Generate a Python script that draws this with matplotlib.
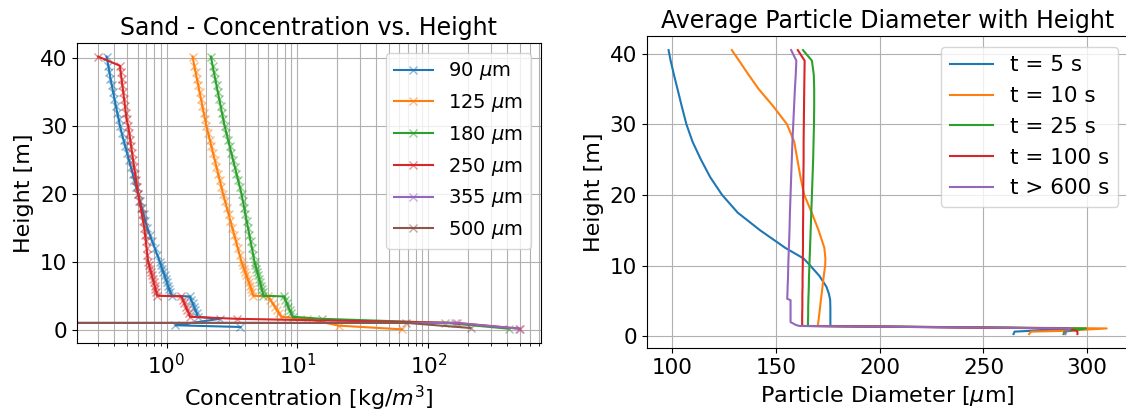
import matplotlib.pyplot as plt
from matplotlib.colors import to_rgba

# grain size classes (um) and their colours
sizes = [90, 125, 180, 250, 355, 500]
colours = ['tab:blue', 'tab:orange', 'tab:green', 'tab:red', 'tab:purple', 'tab:brown']

# cell heights of the column profile (m), top to bottom
height = [40.25, 38.9, 38, 37, 36, 35, 34, 33, 32, 31, 30, 29, 28, 27, 26, 25,
          24, 23, 22, 21, 20, 19, 18, 17, 16, 15, 14, 13, 12, 11, 10,
          9.5, 9, 8.5, 8, 7.5, 7, 6.5, 6, 5.5, 5,
          4.9, 4.4, 3.9, 3.4, 2.9, 2.4, 1.9]

# concentration (kg/m3) at each height
conc_90 = [0.348, 0.359, 0.366, 0.373, 0.382, 0.391, 0.400, 0.410, 0.420, 0.431, 0.441,
           0.454, 0.469, 0.484, 0.500, 0.516, 0.533, 0.551, 0.569, 0.587, 0.607,
           0.627, 0.647, 0.667, 0.689, 0.711, 0.745, 0.778, 0.813, 0.851, 0.889,
           0.905, 0.925, 0.945, 0.965, 0.985, 1.005, 1.025, 1.045, 1.07, 1.10,
           1.51, 1.54, 1.58, 1.62, 1.66, 1.70, 1.73]
conc_125 = [1.58, 1.629, 1.665, 1.705, 1.747, 1.789, 1.832, 1.877, 1.922, 1.969, 2.018,
            2.078, 2.140, 2.203, 2.269, 2.336, 2.406, 2.477, 2.551, 2.627, 2.704,
            2.793, 2.885, 2.980, 3.078, 3.180, 3.285, 3.394, 3.505, 3.621, 3.741,
            3.82, 3.91, 3.99, 4.08, 4.16, 4.25, 4.34, 4.43, 4.52, 4.60,
            5.97, 6.2, 6.45, 6.7, 6.95, 7.25, 7.55]
conc_180 = [2.18, 2.25, 2.297, 2.352, 2.409, 2.466, 2.526, 2.586, 2.649, 2.712, 2.780,
            2.863, 2.950, 3.039, 3.130, 3.225, 3.322, 3.422, 3.525, 3.632, 3.741,
            3.827, 3.915, 4.006, 4.098, 4.193, 4.290, 4.389, 4.491, 4.595, 4.699,
            4.78, 4.86, 4.94, 5.02, 5.10, 5.18, 5.26, 5.34, 5.42, 5.50,
            7.9, 8.1, 8.3, 8.5, 8.7, 8.95, 9.2]
conc_250 = [0.300, 0.440, 0.446, 0.453, 0.460, 0.467, 0.474, 0.481, 0.488, 0.495, 0.510,
            0.519, 0.528, 0.537, 0.546, 0.555, 0.565, 0.575, 0.586, 0.596, 0.607,
            0.620, 0.634, 0.648, 0.663, 0.676, 0.685, 0.695, 0.704, 0.714, 0.724,
            0.736, 0.748, 0.760, 0.772, 0.785, 0.797, 0.810, 0.823, 0.836, 0.850,
            1.30, 1.33, 1.37, 1.40, 1.44, 1.48, 1.51]
conc_355 = [0.0] * len(height)
conc_500 = [0.0] * len(height)

# near-bed cells, different for each class
bed_h_90, bed_c_90 = [1.6, 0.65, 0.4], [2.55, 1.17, 3.67]
bed_h_125, bed_c_125 = [1.6, 0.6, 0.05], [11.8, 20.6, 63.0]
bed_h_180, bed_c_180 = [1.6, 1.0, 0.15], [15.4, 135.0, 410.0]
bed_h_250, bed_c_250 = [1.6, 1.0, 0.15], [3.45, 165.0, 500.0]
bed_h_355, bed_c_355 = [1.0, 0.15], [160.0, 490.0]
bed_h_500, bed_c_500 = [1.0, 0.25], [68.0, 210.0]

concs = [conc_90, conc_125, conc_180, conc_250, conc_355, conc_500]
bed_hs = [bed_h_90, bed_h_125, bed_h_180, bed_h_250, bed_h_355, bed_h_500]
bed_cs = [bed_c_90, bed_c_125, bed_c_180, bed_c_250, bed_c_355, bed_c_500]

# average particle diameter profiles
times = ['t = 5 s', 't = 10 s', 't = 25 s', 't = 100 s', 't > 600 s']
d_height = [40.5, 39, 37, 35, 32.5, 30, 27.5, 25, 22.5, 20, 17.5, 15, 12.5, 11, 10,
            8.5, 7, 6, 5.3, 5.1, 4, 3, 2, 1.6, 1.45, 1.1, 0.75, 0.65, 0.3]
d_5 = [98.2, 99.2, 100.8, 102.5, 104.6, 106.8, 109.8, 113.8, 118.3, 124.0, 131.5,
       142.3, 154.5, 163.3, 166.5, 171.0, 174.3, 175.5, 176.0, 176.1, 176.2, 176.2,
       176.2, 176.2, 176.2, 293.0, 272.0, 265.0, 264.5]
d_10 = [128.7, 132.2, 136.8, 141.6, 148.8, 155.3, 158.8, 160.3, 161.8, 163.6, 167.2,
        170.5, 173.3, 173.8, 173.7, 173.0, 172.4, 172.0, 171.7, 171.6, 171.2, 170.8,
        170.4, 170.2, 170.2, 309.4, 288.0, 273.0, 272.0]
d_25 = [163.0, 167.3, 168.2, 168.4, 168.4, 168.3, 168.1, 167.9, 167.6, 167.3, 167.0,
        166.7, 166.4, 166.2, 166.1, 165.9, 165.8, 165.7, 165.6, 165.6, 165.5, 165.5,
        165.4, 165.4, 165.4, 299.5, 292.0, 289.0, 288.6]
d_100 = [160.5, 163.8, 163.7, 163.6, 163.5, 163.4, 163.3, 163.3, 163.2, 163.1, 163.1,
         163.0, 163.0, 162.9, 162.9, 162.8, 162.8, 162.7, 162.7, 162.7, 162.7, 162.6,
         162.6, 162.6, 162.6, 290.0, 295.0, 295.3, 295.3]
d_600 = [157.3, 159.8, 159.5, 159.1, 158.7, 158.3, 157.9, 157.6, 157.3, 157.0, 156.7,
         156.5, 156.2, 156.0, 155.9, 155.8, 155.6, 155.5, 155.4, 157.0, 157.0, 157.0,
         157.0, 159.5, 161.3, 292.0, 290.5, 289.8, 289.5]
diams = [d_5, d_10, d_25, d_100, d_600]

plt.rcParams['xtick.labelsize'] = 15.5
plt.rcParams['ytick.labelsize'] = 15.5
plt.rcParams['axes.labelsize'] = 16
plt.rcParams['axes.titlesize'] = 17

fig = plt.figure(figsize=(11.26, 4.11), dpi=100)

ax1 = fig.add_axes([0.0684, 0.1655, 0.412, 0.730])
ax1.set_xscale('log')
for size, c, bh, bc, col in zip(sizes, concs, bed_hs, bed_cs, colours):
    ax1.plot(c + bc, height + bh, '-x', color=col,
             markeredgecolor=to_rgba(col, 0.5), label=str(size) + r' $\mu$m')
ax1.grid(which='both')
ax1.set_xlabel(r'Concentration [kg/$m^3$]')
ax1.set_ylabel('Height [m]')
ax1.set_title('Sand - Concentration vs. Height')
ax1.set_yticks([0, 10, 20, 30, 40])
ax1.legend(loc='upper right', fontsize=14)

ax2 = fig.add_axes([0.5743, 0.1526, 0.428, 0.760])
for lab, d, col in zip(times, diams, colours):
    ax2.plot(d, d_height, color=col, label=lab)
ax2.grid()
ax2.set_xlabel(r'Particle Diameter [$\mu$m]')
ax2.set_ylabel('Height [m]')
ax2.set_title('Average Particle Diameter with Height')
ax2.set_xticks([100, 150, 200, 250, 300])
ax2.set_yticks([0, 10, 20, 30, 40])
ax2.legend(loc='upper right', fontsize=15.5)

fig.savefig('out.png', dpi=100)
